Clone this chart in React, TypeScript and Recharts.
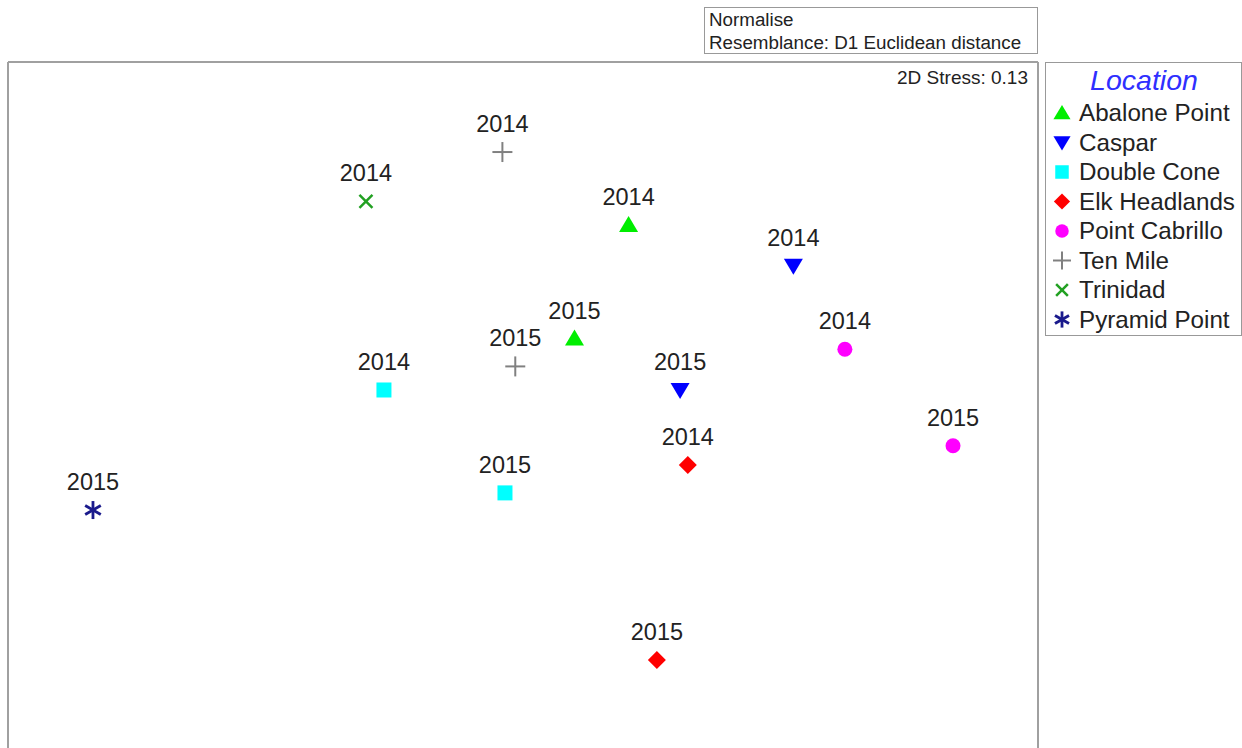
import React from 'react';
import { ScatterChart, Scatter, XAxis, YAxis, ReferenceLine } from 'recharts';

// MDS coordinates
const abalonePoint = [{ year: '2014', x: 0.41, y: 0.84 }, { year: '2015', x: 0.2, y: 0.31 }];
const caspar = [{ year: '2014', x: 1.05, y: 0.65 }, { year: '2015', x: 0.61, y: 0.07 }];
const doubleCone = [{ year: '2014', x: -0.54, y: 0.07 }, { year: '2015', x: -0.07, y: -0.41 }];
const elkHeadlands = [{ year: '2014', x: 0.64, y: -0.28 }, { year: '2015', x: 0.52, y: -1.19 }];
const pointCabrillo = [{ year: '2014', x: 1.25, y: 0.26 }, { year: '2015', x: 1.67, y: -0.19 }];
const tenMile = [{ year: '2014', x: -0.08, y: 1.18 }, { year: '2015', x: -0.03, y: 0.18 }];
const trinidad = [{ year: '2014', x: -0.61, y: 0.95 }];
const pyramidPoint = [{ year: '2015', x: -1.67, y: -0.49 }];

const series = [
  { name: 'Abalone Point', data: abalonePoint, kind: 'triUp', color: '#00ee00' },
  { name: 'Caspar', data: caspar, kind: 'triDown', color: '#0000ff' },
  { name: 'Double Cone', data: doubleCone, kind: 'square', color: '#00ffff' },
  { name: 'Elk Headlands', data: elkHeadlands, kind: 'diamond', color: '#ff0000' },
  { name: 'Point Cabrillo', data: pointCabrillo, kind: 'circle', color: '#ff00ff' },
  { name: 'Ten Mile', data: tenMile, kind: 'plus', color: '#808080' },
  { name: 'Trinidad', data: trinidad, kind: 'cross', color: '#22a022' },
  { name: 'Pyramid Point', data: pyramidPoint, kind: 'star', color: '#1a1a8c' },
];

const FONT = '"Liberation Sans", Arial, sans-serif';

const Marker = ({ kind, color, cx, cy, s = 1 }: { kind: string; color: string; cx: number; cy: number; s?: number }) => {
  switch (kind) {
    case 'triUp':
      return <polygon points={`${cx},${cy - 9 * s} ${cx - 9.5 * s},${cy + 7 * s} ${cx + 9.5 * s},${cy + 7 * s}`} fill={color} />;
    case 'triDown':
      return <polygon points={`${cx - 9.5 * s},${cy - 7 * s} ${cx + 9.5 * s},${cy - 7 * s} ${cx},${cy + 9 * s}`} fill={color} />;
    case 'square':
      return <rect x={cx - 7.5 * s} y={cy - 7.5 * s} width={15 * s} height={15 * s} fill={color} />;
    case 'diamond':
      return <polygon points={`${cx},${cy - 9 * s} ${cx + 9 * s},${cy} ${cx},${cy + 9 * s} ${cx - 9 * s},${cy}`} fill={color} />;
    case 'circle':
      return <circle cx={cx} cy={cy} r={7.5 * s} fill={color} />;
    case 'plus':
      return (
        <g stroke={color} strokeWidth={2}>
          <line x1={cx - 10 * s} y1={cy} x2={cx + 10 * s} y2={cy} />
          <line x1={cx} y1={cy - 10 * s} x2={cx} y2={cy + 10 * s} />
        </g>
      );
    case 'cross':
      return (
        <g stroke={color} strokeWidth={2.5}>
          <line x1={cx - 6.5 * s} y1={cy - 6.5 * s} x2={cx + 6.5 * s} y2={cy + 6.5 * s} />
          <line x1={cx - 6.5 * s} y1={cy + 6.5 * s} x2={cx + 6.5 * s} y2={cy - 6.5 * s} />
        </g>
      );
    default:
      return (
        <g stroke={color} strokeWidth={2.8}>
          <line x1={cx} y1={cy - 9 * s} x2={cx} y2={cy + 9 * s} />
          <line x1={cx - 7.8 * s} y1={cy - 4.5 * s} x2={cx + 7.8 * s} y2={cy + 4.5 * s} />
          <line x1={cx - 7.8 * s} y1={cy + 4.5 * s} x2={cx + 7.8 * s} y2={cy - 4.5 * s} />
        </g>
      );
  }
};

const legendRowY = (i: number) => 50 + i * 29.5;

const App = () => {
  return (
    <div style={{ position: 'absolute', left: 0, top: 0, width: 1242, height: 748, fontFamily: FONT, overflow: 'hidden' }}>
      <ScatterChart width={1242} height={748} margin={{ top: 62, right: 204, bottom: 0, left: 8 }}>
        <XAxis type="number" dataKey="x" domain={[-2, 2]} allowDataOverflow hide />
        <YAxis type="number" dataKey="y" domain={[-1.6, 1.6]} allowDataOverflow hide />
        <ReferenceLine x={-2} stroke="#a0a0a0" strokeWidth={2} />
        <ReferenceLine x={2} stroke="#a0a0a0" strokeWidth={2} />
        <ReferenceLine y={1.6} stroke="#a0a0a0" strokeWidth={2} />
        {series.map((s) => (
          <Scatter
            key={s.name}
            name={s.name}
            data={s.data}
            isAnimationActive={false}
            shape={(p: any) => (
              <g>
                <Marker kind={s.kind} color={s.color} cx={p.cx} cy={p.cy} />
                <text x={p.cx} y={p.cy - 20} textAnchor="middle" fontSize={23.5} fill="#222" fontFamily={FONT}>
                  {p.payload.year}
                </text>
              </g>
            )}
          />
        ))}
      </ScatterChart>

      <div
        style={{
          position: 'absolute', left: 704, top: 7, width: 334, height: 47, boxSizing: 'border-box',
          border: '1px solid #999', padding: '0 0 0 4px', fontSize: 18.8, lineHeight: '23px', color: '#222',
        }}
      >
        <div>Normalise</div>
        <div>Resemblance: D1 Euclidean distance</div>
      </div>

      <div style={{ position: 'absolute', left: 860, top: 67, width: 168, textAlign: 'right', fontSize: 19, color: '#222' }}>
        2D Stress: 0.13
      </div>

      <div
        style={{
          position: 'absolute', left: 1045, top: 62, width: 197, height: 274, boxSizing: 'border-box',
          border: '1px solid #999',
        }}
      >
        <svg width={195} height={272}>
          <text x={98} y={27} textAnchor="middle" fontSize={28.5} fontStyle="italic" fill="#2f2fff" fontFamily={FONT}>
            Location
          </text>
          {series.map((s, i) => (
            <g key={s.name}>
              <Marker kind={s.kind} color={s.color} cx={16} cy={legendRowY(i)} s={0.9} />
              <text x={33} y={legendRowY(i) + 8} fontSize={24.2} fill="#222" fontFamily={FONT}>
                {s.name}
              </text>
            </g>
          ))}
        </svg>
      </div>
    </div>
  );
};

export default App;
